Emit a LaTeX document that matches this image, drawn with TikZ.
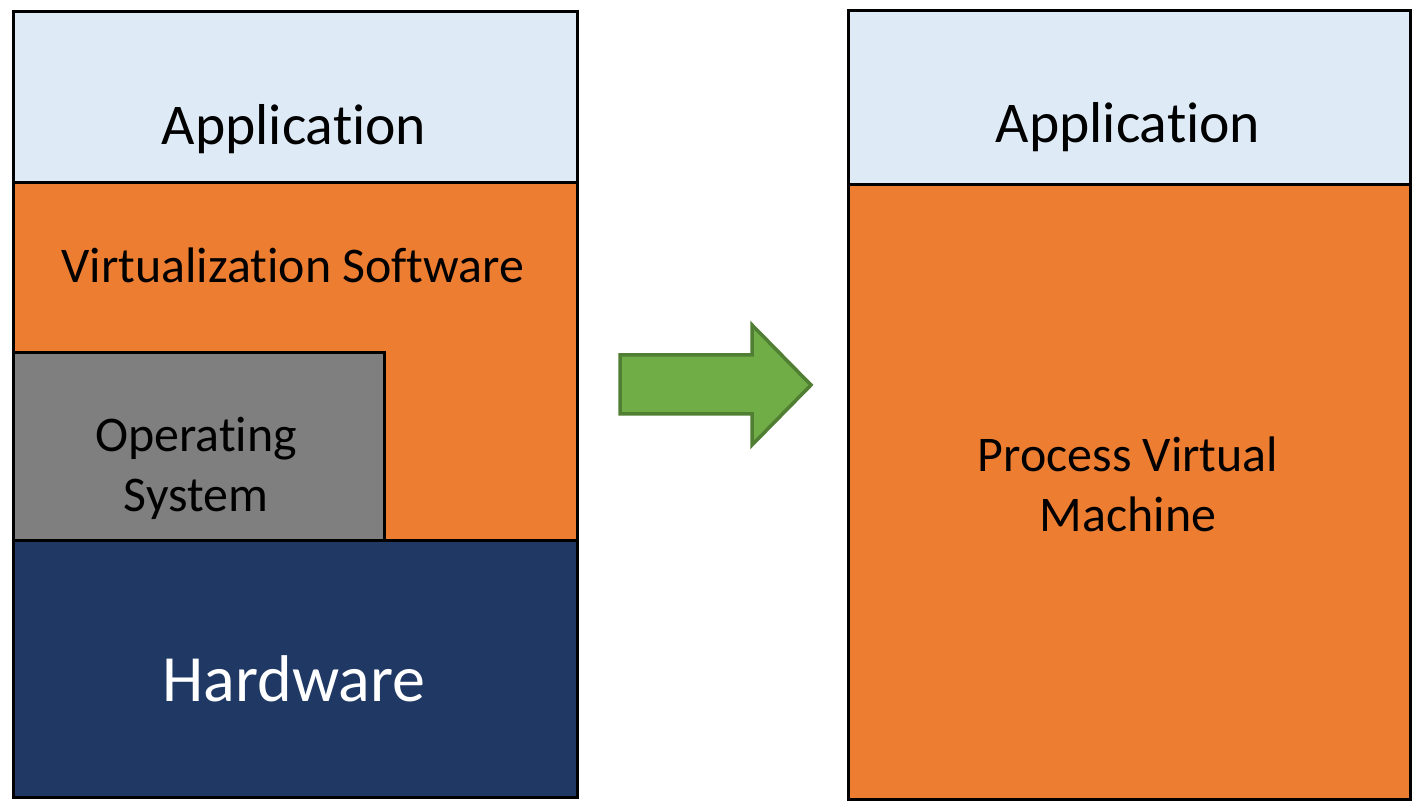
\documentclass[tikz,border=0pt]{standalone}
\usepackage{fontspec}
\setmainfont{Carlito}[Ligatures=NoCommon]
\usepackage{tikz}
\usetikzlibrary{positioning}

\definecolor{appblue}{HTML}{DEEBF7}
\definecolor{virtorange}{HTML}{ED7D31}
\definecolor{osgray}{HTML}{7F7F7F}
\definecolor{hwnavy}{HTML}{203864}
\definecolor{arrowgreen}{HTML}{70AD47}
\definecolor{arrowedge}{HTML}{507E32}

\begin{document}
\begin{tikzpicture}[layer/.style={draw=black,line width=0.8pt,inner sep=0pt,anchor=south west},
                    bigtext/.style={font=\fontsize{16.4}{20}\selectfont,anchor=base},
                    smalltext/.style={font=\fontsize{14.2}{17.07}\selectfont,align=center,anchor=base}]
      \useasboundingbox (0,0) rectangle (14.21,8.12);

      % left stack
      \node[layer,fill=virtorange,minimum width=5.64cm,minimum height=3.58cm] (virt) at (0.12,2.70) {};
      \node[layer,fill=osgray,minimum width=3.71cm,minimum height=1.88cm]     (os)   at (0.12,2.70) {};
      \node[layer,fill=hwnavy,minimum width=5.64cm,minimum height=2.57cm]     (hw)   at (0.12,0.13) {};
      \node[layer,fill=appblue,minimum width=5.64cm,minimum height=1.71cm]    (appL) at (0.12,6.28) {};

      % right stack
      \node[layer,fill=virtorange,minimum width=5.62cm,minimum height=6.15cm] (pvm)  at (8.47,0.11) {};
      \node[layer,fill=appblue,minimum width=5.62cm,minimum height=1.74cm]    (appR) at (8.47,6.26) {};

      % labels
      \node[bigtext]   (appLtext) at (2.94,6.67) {Application};
      \node[smalltext] (virttext) at (2.93,5.29) {Virtualization Software};
      \node[smalltext] (ostext)   at (1.96,3.00) {Operating\\System};
      \node[font=\fontsize{18.8}{22}\selectfont,text=white,anchor=base] (hwtext) at (2.94,1.10) {Hardware};
      \node[bigtext]   (appRtext) at (11.28,6.69) {Application};
      \node[smalltext] (pvmtext)  at (11.28,2.80) {Process Virtual\\Machine};

      % arrow
      \draw[arrowedge,fill=arrowgreen,line width=1pt,line join=miter]
            (6.20,4.57) -- (7.52,4.57) -- (7.52,4.87) -- (8.11,4.27)
            -- (7.52,3.67) -- (7.52,3.98) -- (6.20,3.98) -- cycle;
    \end{tikzpicture}
\end{document}
